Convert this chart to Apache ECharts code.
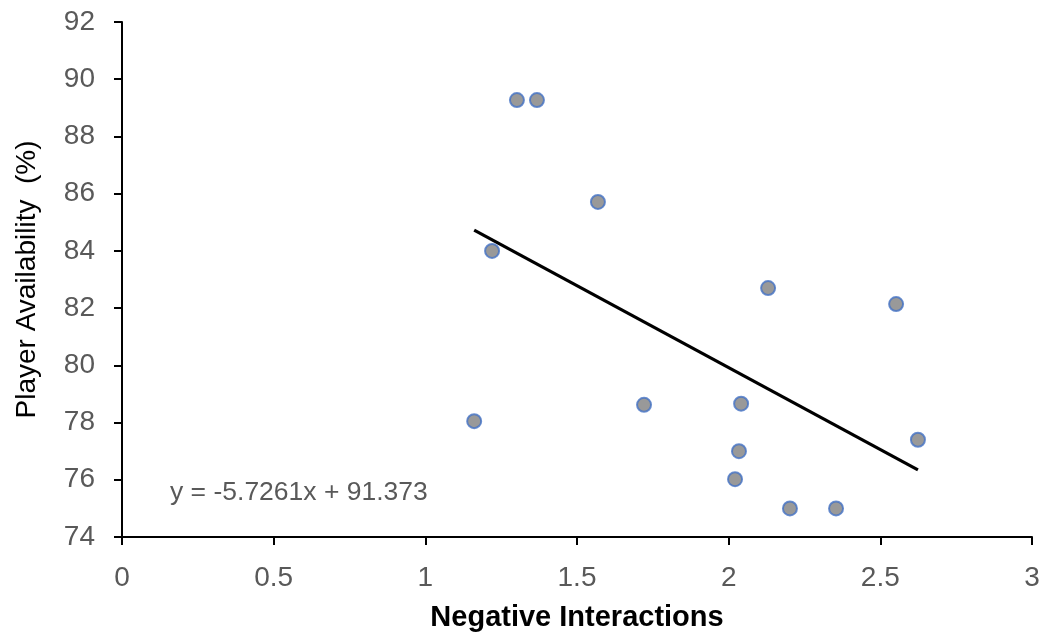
<!DOCTYPE html>
<html><head><meta charset="utf-8">
<script src="https://cdn.jsdelivr.net/npm/echarts@6/dist/echarts.min.js"></script>
<style>html,body{margin:0;padding:0;background:#fff}#c{width:1048px;height:637px}</style>
</head><body><div id="c"></div>
<script>
const negInteractions = [1.302, 1.368, 1.569, 1.220, 1.161, 1.721, 2.041, 2.130, 2.552, 2.034, 2.021, 2.202, 2.354, 2.624];
const availability   = [89.27, 89.27, 85.71, 84.00, 78.05, 78.62, 78.66, 82.70, 82.14, 77.00, 76.02, 75.00, 75.00, 77.40];
const trendSlope = -5.7261;
const trendIntercept = 91.373;
const trendLabel = 'y = -5.7261x + 91.373';
const xTicks = [0, 0.5, 1, 1.5, 2, 2.5, 3];
const yTicks = [74, 76, 78, 80, 82, 84, 86, 88, 90, 92];

const points = negInteractions.map((x, i) => [x, availability[i]]);
const xMin = Math.min(...negInteractions), xMax = Math.max(...negInteractions);
const trend = [[xMin, trendSlope * xMin + trendIntercept], [xMax, trendSlope * xMax + trendIntercept]];

const chart = echarts.init(document.getElementById('c'), null, {renderer: 'canvas'});
const font = 'Arial, "Liberation Sans", sans-serif';
chart.setOption({
  animation: false,
  grid: {left: 122, right: 16, top: 22, bottom: 100, containLabel: false},
  xAxis: {
    type: 'value', min: xTicks[0], max: xTicks[xTicks.length - 1], interval: 0.5,
    name: 'Negative Interactions', nameLocation: 'middle', nameGap: 66,
    nameTextStyle: {fontFamily: font, fontSize: 29, fontWeight: 'bold', color: '#000'},
    axisLine: {lineStyle: {color: '#000', width: 2}},
    axisTick: {show: true, inside: false, length: 8, lineStyle: {color: '#000', width: 2}},
    axisLabel: {fontFamily: font, fontSize: 28, color: '#595959', margin: 27},
    splitLine: {show: false}
  },
  yAxis: {
    type: 'value', min: yTicks[0], max: yTicks[yTicks.length - 1], interval: 2,
    name: 'Player Availability  (%)', nameLocation: 'middle', nameGap: 81,
    nameTextStyle: {fontFamily: font, fontSize: 28, color: '#000'},
    axisLine: {show: true, lineStyle: {color: '#000', width: 2}},
    axisTick: {show: true, inside: false, length: 8, lineStyle: {color: '#000', width: 2}},
    axisLabel: {fontFamily: font, fontSize: 28, color: '#595959', margin: 27},
    splitLine: {show: false}
  },
  series: [
    {
      type: 'line', data: trend, symbol: 'none', silent: true,
      lineStyle: {color: '#000', width: 3.2}, z: 2
    },
    {
      type: 'scatter', data: points, symbol: 'circle', symbolSize: 14,
      itemStyle: {color: '#808080', borderColor: '#4472C4', borderWidth: 2}, z: 3
    }
  ],
  graphic: [{
    type: 'text', left: 170, top: 479,
    style: {text: trendLabel, fontFamily: font, fontSize: 26.5, fill: '#595959'}
  }]
});
</script></body></html>
